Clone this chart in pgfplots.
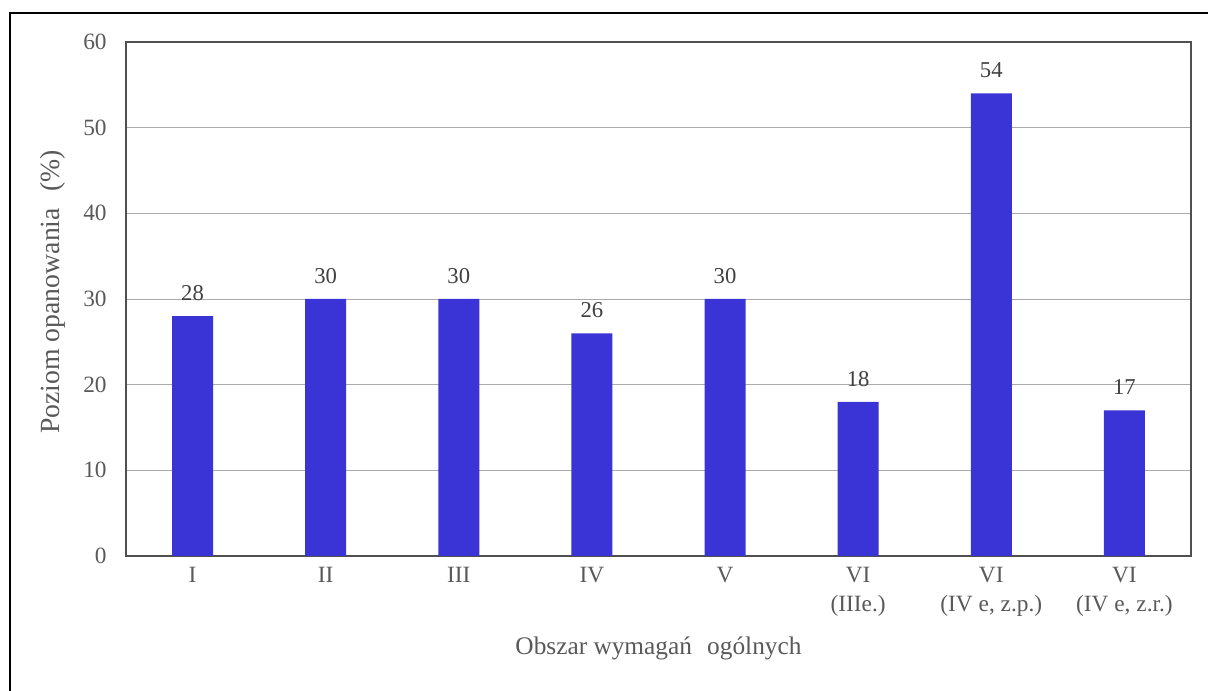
\documentclass[border=0pt]{standalone}
\usepackage{pgfplots}
\pgfplotsset{compat=1.18}
\usepackage{fontspec}
\setmainfont{Liberation Serif}
\definecolor{barblue}{RGB}{58,52,214}
\definecolor{ticktxt}{RGB}{89,89,89}
\definecolor{lbltxt}{RGB}{64,64,64}
\definecolor{gridc}{RGB}{170,170,170}
\definecolor{axc}{RGB}{80,80,80}
\begin{document}
\begin{tikzpicture}
\useasboundingbox (0,0) rectangle (906pt,518.25pt);
\draw[line width=2pt,black] (7.5pt,0) -- (7.5pt,508.5pt) -- (906pt,508.5pt);
\begin{axis}[
  at={(94.5pt,101.25pt)}, anchor=south west,
  scale only axis,
  width=798.75pt, height=385.5pt,
  xmin=-0.5, xmax=7.5,
  ymin=0, ymax=60,
  ytick={0,10,...,60},
  xtick={0,...,7},
  xticklabels={I,II,III,IV,V,{VI\\(IIIe.)},{VI\\(IV e, z.p.)},{VI\\(IV e, z.r.)}},
  major tick length=0pt,
  ymajorgrids,
  grid style={gridc, line width=0.6pt},
  axis line style={axc, line width=0.8pt},
  ybar, bar width=30.75pt,
  xticklabel style={font=\fontsize{17.5}{21.75}\selectfont, text=ticktxt, align=center, yshift=-5pt},
  yticklabel style={font=\fontsize{17.5}{21}\selectfont, text=ticktxt, xshift=-11pt},
  xlabel={Obszar wymagań\hspace{0.35em} ogólnych},
  ylabel={Poziom opanowania\hspace{0.35em} (\%)},
  xlabel style={font=\fontsize{19}{22}\selectfont, text=ticktxt, at={(axis description cs:0.5,-0.179)}, anchor=center},
  ylabel style={font=\fontsize{20.8}{22}\selectfont, text=ticktxt, at={(axis description cs:-0.069,0.514)}, anchor=center},
  nodes near coords,
  every node near coord/.append style={font=\fontsize{17}{20}\selectfont, text=lbltxt, anchor=south, yshift=8pt},
  /pgf/number format/assume math mode=true,
]
\addplot[fill=barblue, draw=none] coordinates {(0,28) (1,30) (2,30) (3,26) (4,30) (5,18) (6,54) (7,17)};
\end{axis}
\end{tikzpicture}
\end{document}
